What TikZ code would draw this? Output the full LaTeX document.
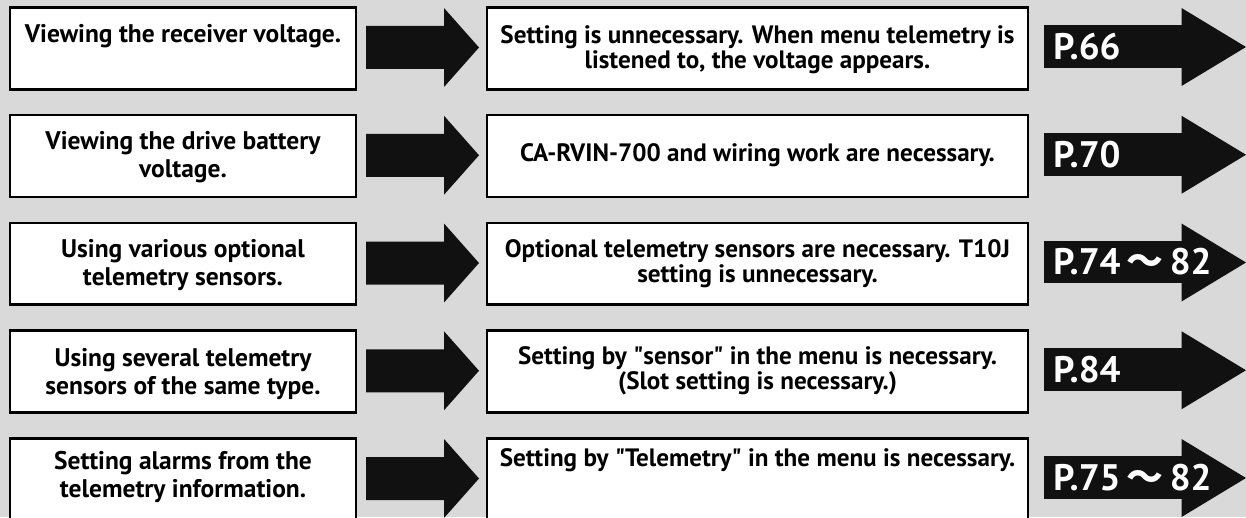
\documentclass[tikz,border=0pt]{standalone}
\usepackage{fontspec}
\setmainfont{PT Sans}
\newfontfamily\cjk{Noto Sans CJK JP}
\usetikzlibrary{positioning,calc}
\definecolor{bggray}{HTML}{D9D9D9}
\definecolor{inkblack}{HTML}{111111}
\newlength\pxlen
\setlength\pxlen{0.02cm}

\tikzset{
  taskbox/.style={draw=black, line width=1.5pt, fill=white, inner sep=0pt, anchor=north,
    font=\bfseries\fontsize{14.5}{15.9}\selectfont},
  notebox/.style={taskbox, font=\bfseries\fontsize{14.3}{14.3}\selectfont},
  pagebody/.style={fill=inkblack, text=white, inner xsep=0.18cm, inner ysep=0pt,
    minimum height=0.86cm, anchor=west, font=\bfseries\fontsize{21}{24}\selectfont},
}

\begin{document}
\begin{tikzpicture}[x=0.02cm, y=-0.02cm]
  \fill[bggray] (0,0) rectangle (1246,517);
  \useasboundingbox (0,0) rectangle (1246,517);
  \foreach \i/\lgap/\ltext/\mgap/\mtext/\pg in {
    0/17/{Viewing the receiver voltage.}/18/{Setting is unnecessary. When menu telemetry is\\listened to, the voltage appears.}/{P.66},
    1/16/{Viewing the drive battery\\voltage.}/28/{CA-RVIN-700 and wiring work are necessary.}/{P.70},
    2/17/{Using various optional\\telemetry sensors.}/17/{Optional telemetry sensors are necessary. T10J\\setting is unnecessary.}/{P.74\,{\cjk 〜}\,82},
    3/18/{Using several telemetry\\sensors of the same type.}/16/{Setting by \textquotedbl sensor\textquotedbl{} in the menu is necessary.\\(Slot setting is necessary.)}/{P.84},
    4/13/{Setting alarms from the\\telemetry information.}/10/{Setting by \textquotedbl Telemetry\textquotedbl{} in the menu is necessary.}/{P.75\,{\cjk 〜}\,82}%
  }{
    \pgfmathsetmacro\rowtop{6+107.75*\i}
    % what the user wants
    \node[taskbox] (task\i) at (183,\rowtop)
      {\parbox[c][1.64cm][t]{6.92cm}{\centering\vspace*{\lgap\pxlen}\ltext}};
    % block arrow to the note
    \fill[inkblack] (366,\rowtop+20) -- (444,\rowtop+20) -- (444,\rowtop+2)
      -- (479,\rowtop+41.5) -- (444,\rowtop+81) -- (444,\rowtop+63)
      -- (366,\rowtop+63) -- cycle;
    % what has to be done
    \node[notebox] (note\i) at (757.5,\rowtop)
      {\parbox[c][1.64cm][t]{10.82cm}{\centering\vspace*{\mgap\pxlen}\mtext}};
    % page arrow
    \fill[inkblack] (1181.5,\rowtop+2) -- (1246,\rowtop+41) -- (1181.5,\rowtop+80) -- cycle;
    \node[pagebody] (page\i) at (1044,\rowtop+40.5) {\makebox[2.4cm][l]{\pg}};
  }
\end{tikzpicture}
\end{document}
